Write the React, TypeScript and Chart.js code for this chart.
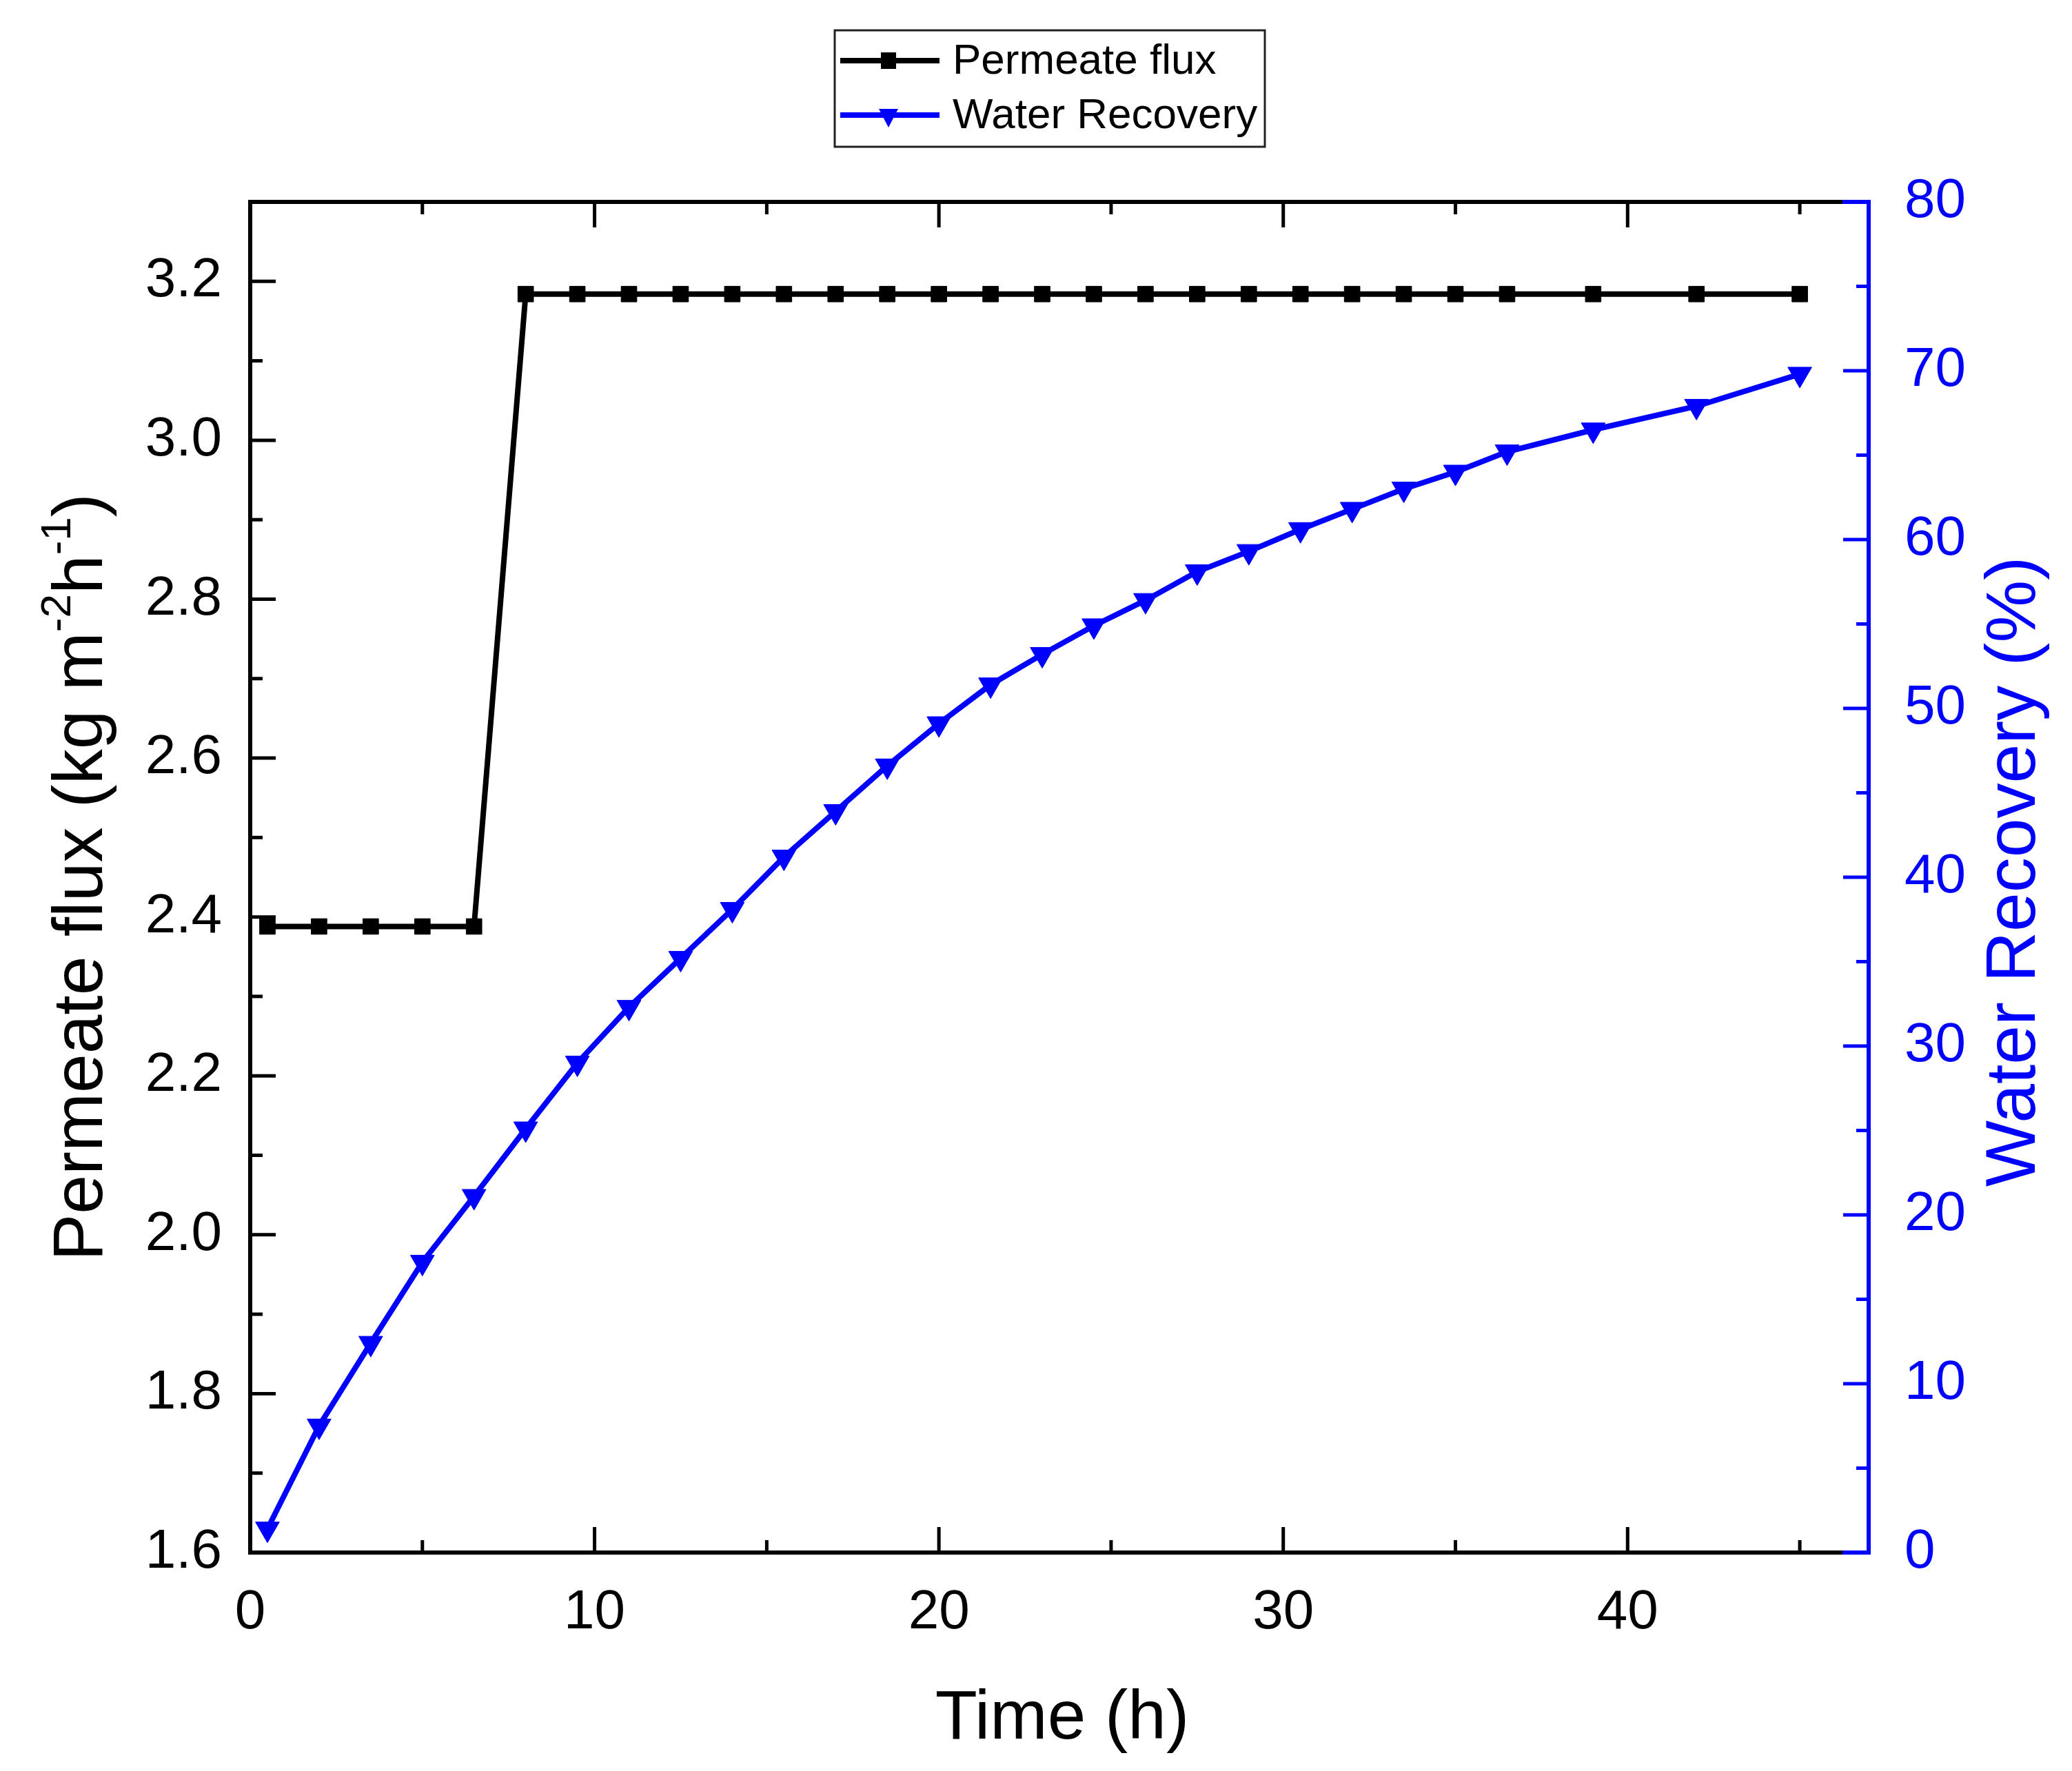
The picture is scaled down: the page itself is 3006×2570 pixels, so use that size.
import { useEffect, useRef } from 'react';
import { Chart, registerables } from 'chart.js';

Chart.register(...registerables);

// Data
const timeH = [0.5, 2, 3.5, 5, 6.5, 8, 9.5, 11, 12.5, 14, 15.5, 17, 18.5, 20, 21.5, 23, 24.5, 26, 27.5, 29, 30.5, 32, 33.5, 35, 36.5, 39, 42, 45];
const permeateFlux = [2.388, 2.388, 2.388, 2.388, 2.388, 3.184, 3.184, 3.184, 3.184, 3.184, 3.184, 3.184, 3.184, 3.184, 3.184, 3.184, 3.184, 3.184, 3.184, 3.184, 3.184, 3.184, 3.184, 3.184, 3.184, 3.184, 3.184, 3.184];
const waterRecovery = [1.4, 7.5, 12.4, 17.2, 21.1, 25.1, 29.0, 32.3, 35.2, 38.1, 41.2, 43.9, 46.6, 49.1, 51.4, 53.2, 54.9, 56.4, 58.1, 59.3, 60.6, 61.8, 63.0, 64.0, 65.2, 66.5, 67.9, 69.8];

// Tick values
const xMajorTicks = [0, 10, 20, 30, 40];
const xMinorTicks = [5, 15, 25, 35, 45];
const fluxMajorTicks = [1.6, 1.8, 2.0, 2.2, 2.4, 2.6, 2.8, 3.0, 3.2];
const fluxMinorTicks = [1.7, 1.9, 2.1, 2.3, 2.5, 2.7, 2.9, 3.1];
const recoveryMajorTicks = [0, 10, 20, 30, 40, 50, 60, 70, 80];
const recoveryMinorTicks = [5, 15, 25, 35, 45, 55, 65, 75];

const FONT = '"Liberation Sans", Arial, sans-serif';
const BLUE = '#0000ff';

// axes frame with inward ticks, Origin style
const framePlugin = {
  id: 'frame',
  afterDraw(chart: any) {
    const { ctx, chartArea } = chart;
    const { left, right, top, bottom } = chartArea;
    const x = chart.scales.x;
    const yl = chart.scales.y;
    const yr = chart.scales.y1;
    const major = 37;
    const minor = 18;
    ctx.save();
    ctx.lineCap = 'butt';

    // ticks
    ctx.lineWidth = 5;
    ctx.strokeStyle = '#000';
    const xTick = (v: number, len: number) => {
      const px = x.getPixelForValue(v);
      ctx.beginPath();
      ctx.moveTo(px, bottom);
      ctx.lineTo(px, bottom - len);
      ctx.moveTo(px, top);
      ctx.lineTo(px, top + len);
      ctx.stroke();
    };
    xMajorTicks.forEach((v) => xTick(v, major));
    xMinorTicks.forEach((v) => xTick(v, minor));

    const ylTick = (v: number, len: number) => {
      const py = yl.getPixelForValue(v);
      ctx.beginPath();
      ctx.moveTo(left, py);
      ctx.lineTo(left + len, py);
      ctx.stroke();
    };
    fluxMajorTicks.forEach((v) => ylTick(v, major));
    fluxMinorTicks.forEach((v) => ylTick(v, minor));

    ctx.strokeStyle = BLUE;
    const yrTick = (v: number, len: number) => {
      const py = yr.getPixelForValue(v);
      ctx.beginPath();
      ctx.moveTo(right, py);
      ctx.lineTo(right - len, py);
      ctx.stroke();
    };
    recoveryMajorTicks.forEach((v) => yrTick(v, major));
    recoveryMinorTicks.forEach((v) => yrTick(v, minor));

    // axis lines
    ctx.lineWidth = 6;
    const split = right - 38;
    ctx.strokeStyle = '#000';
    ctx.beginPath();
    ctx.moveTo(left, top);
    ctx.lineTo(split, top);
    ctx.moveTo(left, bottom);
    ctx.lineTo(split, bottom);
    ctx.moveTo(left, top - 3);
    ctx.lineTo(left, bottom + 3);
    ctx.stroke();
    ctx.strokeStyle = BLUE;
    ctx.beginPath();
    ctx.moveTo(split, top);
    ctx.lineTo(right, top);
    ctx.moveTo(split, bottom);
    ctx.lineTo(right, bottom);
    ctx.moveTo(right, top - 3);
    ctx.lineTo(right, bottom + 3);
    ctx.stroke();
    ctx.restore();
  },
};

const titlesPlugin = {
  id: 'titles',
  afterDraw(chart: any) {
    const { ctx, chartArea } = chart;
    const midY = (chartArea.top + chartArea.bottom) / 2;
    ctx.save();

    // x title
    ctx.fillStyle = '#000';
    ctx.font = `100px ${FONT}`;
    ctx.textAlign = 'center';
    ctx.textBaseline = 'alphabetic';
    ctx.fillText('Time (h)', (chartArea.left + chartArea.right) / 2 + 4, 2523);

    // left title with superscripts
    const parts: [string, boolean][] = [
      ['Permeate flux (kg m', false],
      ['-2', true],
      ['h', false],
      ['-1', true],
      [')', false],
    ];
    const mainFont = `102px ${FONT}`;
    const supFont = `62px ${FONT}`;
    let total = 0;
    parts.forEach(([t, sup]) => {
      ctx.font = sup ? supFont : mainFont;
      total += ctx.measureText(t).width;
    });
    ctx.save();
    ctx.translate(148, midY);
    ctx.rotate(-Math.PI / 2);
    ctx.textAlign = 'left';
    let cx = -total / 2;
    parts.forEach(([t, sup]) => {
      ctx.font = sup ? supFont : mainFont;
      ctx.fillText(t, cx, sup ? -46 : 0);
      cx += ctx.measureText(t).width;
    });
    ctx.restore();

    // right title
    ctx.save();
    ctx.translate(2952, midY - 8);
    ctx.rotate(-Math.PI / 2);
    ctx.fillStyle = BLUE;
    ctx.font = `102px ${FONT}`;
    ctx.textAlign = 'center';
    ctx.fillText('Water Recovery (%)', 0, 0);
    ctx.restore();

    ctx.restore();
  },
};

const legendPlugin = {
  id: 'boxLegend',
  afterDraw(chart: any) {
    const { ctx } = chart;
    ctx.save();
    ctx.lineWidth = 3;
    ctx.strokeStyle = '#222';
    ctx.strokeRect(1211, 44, 624, 169);

    const rows = chart.data.datasets.map((ds: any, i: number) => ({
      label: ds.label,
      color: ds.borderColor,
      style: ds.pointStyle,
      y: i === 0 ? 88 : 167,
    }));
    rows.forEach((r: any) => {
      ctx.strokeStyle = r.color;
      ctx.fillStyle = r.color;
      ctx.lineWidth = 8;
      ctx.beginPath();
      ctx.moveTo(1219, r.y);
      ctx.lineTo(1363, r.y);
      ctx.stroke();
      const mx = 1289;
      if (r.style === 'rect') {
        ctx.fillRect(mx - 11, r.y - 12, 22, 24);
      } else {
        ctx.beginPath();
        ctx.moveTo(mx - 14, r.y - 9);
        ctx.lineTo(mx + 14, r.y - 9);
        ctx.lineTo(mx, r.y + 18);
        ctx.closePath();
        ctx.fill();
      }
      ctx.fillStyle = '#000';
      ctx.font = `62px ${FONT}`;
      ctx.textAlign = 'left';
      ctx.textBaseline = 'middle';
      ctx.fillText(r.label, 1382, r.y + 2);
    });
    ctx.restore();
  },
};

export default function App() {
  const canvasRef = useRef<HTMLCanvasElement>(null);
  const chartRef = useRef<Chart | null>(null);

  useEffect(() => {
    if (!canvasRef.current) return;
    if (chartRef.current) chartRef.current.destroy();

    const tickFont = { family: FONT, size: 80 };

    chartRef.current = new Chart(canvasRef.current, {
      type: 'line',
      data: {
        datasets: [
          {
            label: 'Permeate flux',
            data: timeH.map((t, i) => ({ x: t, y: permeateFlux[i] })),
            yAxisID: 'y',
            borderColor: '#000',
            backgroundColor: '#000',
            borderWidth: 8,
            pointStyle: 'rect',
            pointRadius: 16,
            pointBorderWidth: 1,
            pointBorderColor: '#000',
            pointBackgroundColor: '#000',
            tension: 0,
          },
          {
            label: 'Water Recovery',
            data: timeH.map((t, i) => ({ x: t, y: waterRecovery[i] })),
            yAxisID: 'y1',
            borderColor: BLUE,
            backgroundColor: BLUE,
            borderWidth: 8,
            pointStyle: 'triangle',
            pointRotation: 180,
            pointRadius: 20,
            pointBorderWidth: 1,
            pointBorderColor: BLUE,
            pointBackgroundColor: BLUE,
            tension: 0,
          },
        ],
      },
      options: {
        animation: false,
        responsive: true,
        maintainAspectRatio: false,
        layout: { padding: { top: 293, left: 0, right: 0, bottom: 0 } },
        plugins: {
          legend: { display: false },
          tooltip: { enabled: false },
        },
        scales: {
          x: {
            type: 'linear',
            position: 'bottom',
            min: 0,
            max: 47,
            grid: { display: false },
            border: { display: false },
            ticks: { font: tickFont, color: '#000', padding: 32, maxRotation: 0 },
            afterBuildTicks: (s: any) => {
              s.ticks = xMajorTicks.map((v) => ({ value: v }));
            },
            afterFit: (s: any) => {
              s.height = 317;
            },
          },
          y: {
            type: 'linear',
            position: 'left',
            min: 1.6,
            max: 3.3,
            grid: { display: false },
            border: { display: false },
            ticks: {
              font: tickFont,
              color: '#000',
              padding: 33,
              callback: (v: any) => Number(v).toFixed(1),
            },
            afterBuildTicks: (s: any) => {
              s.ticks = fluxMajorTicks.map((v) => ({ value: v }));
            },
            afterFit: (s: any) => {
              s.width = 363;
            },
          },
          y1: {
            type: 'linear',
            position: 'right',
            min: 0,
            max: 80,
            grid: { display: false },
            border: { display: false },
            ticks: { font: tickFont, color: BLUE, padding: 44 },
            afterBuildTicks: (s: any) => {
              s.ticks = recoveryMajorTicks.map((v) => ({ value: v }));
            },
            afterFit: (s: any) => {
              s.width = 295;
            },
          },
        },
      },
      plugins: [framePlugin, titlesPlugin, legendPlugin],
    } as any);

    return () => {
      if (chartRef.current) {
        chartRef.current.destroy();
        chartRef.current = null;
      }
    };
  }, []);

  return (
    <div style={{ position: 'fixed', left: 0, top: 0, width: 3006, height: 2570, background: '#fff' }}>
      <canvas ref={canvasRef} style={{ display: 'block' }} />
    </div>
  );
}
